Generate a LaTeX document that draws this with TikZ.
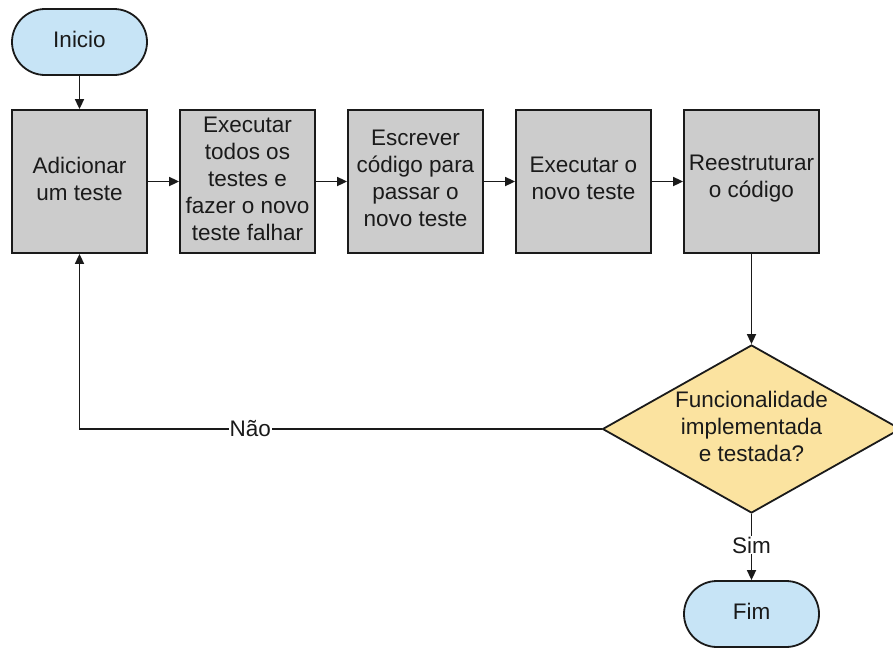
\documentclass[tikz,border=0pt]{standalone}
\usepackage{fontspec}
\setmainfont{Liberation Sans}
\usetikzlibrary{arrows.meta,shapes.misc,shapes.geometric}
\definecolor{termfill}{HTML}{C7E4F6}
\definecolor{stepfill}{HTML}{CCCCCC}
\definecolor{decfill}{HTML}{FBE3A0}
\definecolor{edge}{HTML}{1A1A1A}
\tikzset{
  txt/.style={font=\fontsize{22.5}{27}\selectfont, align=center, text=edge},
  caption/.style={label={[txt, inner sep=0pt, yshift=3pt]center:{#1}}},
  terminal/.style={rounded rectangle, draw=edge, line width=1.8pt, fill=termfill,
    minimum width=135pt, minimum height=66pt, inner sep=0pt},
  stepbox/.style={rectangle, draw=edge, line width=1.8pt, fill=stepfill,
    minimum width=135pt, minimum height=143pt, inner sep=0pt},
  decision/.style={diamond, draw=edge, line width=1.8pt, fill=decfill,
    minimum width=298pt, minimum height=168pt, inner sep=0pt},
  flow/.style={draw=edge, line width=1.7pt, -{Triangle[length=10pt,width=9pt]}},
  lbl/.style={txt, fill=white, inner sep=1pt},
}
\begin{document}
\begin{tikzpicture}[x=1pt, y=-1pt]
  \useasboundingbox (0,0) rectangle (893,648);

  % terminals
  \node[terminal, caption={Inicio}] (start) at (79.5,42) {};
  \node[terminal, caption={Fim}] (end) at (751.5,614) {};

  % process steps
  \node[stepbox, caption={Adicionar\\um teste}] (b1) at (79.5,181.5) {};
  \node[stepbox, caption={Executar\\todos os\\testes e\\fazer o novo\\teste falhar}] (b2) at (247.5,181.5) {};
  \node[stepbox, caption={Escrever\\código para\\passar o\\novo teste}] (b3) at (415.5,181.5) {};
  \node[stepbox, caption={Executar o\\novo teste}] (b4) at (583.5,181.5) {};
  \node[stepbox, caption={Reestruturar\\o código}] (b5) at (751.5,181.5) {};

  % decision
  \node[decision, caption={Funcionalidade\\implementada\\e testada?}] (dec) at (751.5,429) {};

  % connectors
  \draw[flow] (start) -- (b1);
  \draw[flow] (b1) -- (b2);
  \draw[flow] (b2) -- (b3);
  \draw[flow] (b3) -- (b4);
  \draw[flow] (b4) -- (b5);
  \draw[flow] (b5) -- (dec);
  \draw[flow] (dec.south) -- node[lbl, pos=0.47] {Sim} (end);
  \coordinate (loop) at (b1.south |- dec.west);
  \draw[flow] (dec.west) -- node[lbl, pos=0.673] {Não} (loop) -- (b1.south);
\end{tikzpicture}
\end{document}
